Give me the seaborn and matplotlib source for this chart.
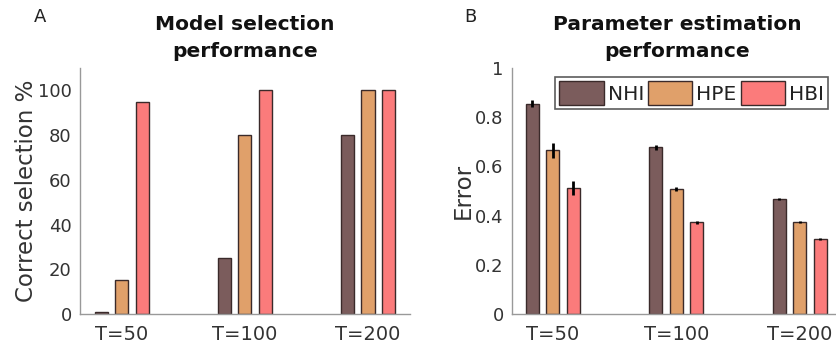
import numpy as np
import pandas as pd
import matplotlib
matplotlib.use("Agg")
import matplotlib.pyplot as plt
import seaborn as sns

# ---- data ----
conditions = ["T=50", "T=100", "T=200"]
models = ["NHI", "HPE", "HBI"]
sel_NHI = [1, 25, 80]
sel_HPE = [15, 80, 100]
sel_HBI = [95, 100, 100]
err_NHI = [0.855, 0.677, 0.466]
err_HPE = [0.665, 0.508, 0.372]
err_HBI = [0.512, 0.372, 0.303]
sem_NHI = [0.015, 0.010, 0.004]
sem_HPE = [0.030, 0.008, 0.004]
sem_HBI = [0.030, 0.007, 0.004]
colors = ["#7b5c5c", "#e0a06a", "#fb7b7b"]

sns.set_theme(style="white")
plt.rcParams['font.family'] = ['DejaVu Sans']

def long_df(a, b, c):
    rows = []
    for m, vals in zip(models, [a, b, c]):
        for cond, v in zip(conditions, vals):
            rows.append({"cond": cond, "model": m, "val": v})
    return pd.DataFrame(rows)

dfA = long_df(sel_NHI, sel_HPE, sel_HBI)
dfB = long_df(err_NHI, err_HPE, err_HBI)

fig = plt.figure(figsize=(8.37, 3.48), dpi=100)
axA = fig.add_axes([0.0956, 0.0977, 0.394, 0.707])
axB = fig.add_axes([0.6117, 0.0977, 0.394, 0.707])

for ax, df in [(axA, dfA), (axB, dfB)]:
    sns.barplot(data=df, x="cond", y="val", hue="model", order=conditions,
                hue_order=models, palette=colors, width=0.5, gap=0.36,
                edgecolor="#3a2a2a", linewidth=1.0, errorbar=None, ax=ax,
                saturation=1)
    sns.despine(ax=ax)
    for s in ["left", "bottom"]:
        ax.spines[s].set_color("#999999")
        ax.spines[s].set_linewidth(1.0)
    ax.tick_params(axis="both", length=0, colors="#333333")
    ax.tick_params(axis="x", pad=8)
    ax.tick_params(axis="y", pad=6)
    ax.set_xlabel("")

# panel A
axA.set_xlim(-0.34, 2.34)
axA.set_ylim(0, 110)
axA.set_yticks([0, 20, 40, 60, 80, 100])
axA.set_ylabel("Correct selection %", fontsize=16.5, color="#333333", labelpad=0)
axA.set_title("Model selection\nperformance", fontsize=14.5, fontweight="bold",
              color="#111111", pad=8, linespacing=1.5)
axA.get_legend().remove()

# panel B with error bars
axB.set_xlim(-0.33, 2.34)
axB.set_ylim(0, 1)
axB.set_yticks([0, 0.2, 0.4, 0.6, 0.8, 1])
axB.set_yticklabels(["0", "0.2", "0.4", "0.6", "0.8", "1"])
axB.set_ylabel("Error", fontsize=16.5, color="#333333", labelpad=0)
axB.set_title("Parameter estimation\nperformance", fontsize=14.5, fontweight="bold",
              color="#111111", pad=8, linespacing=1.5)
sems = [sem_NHI, sem_HPE, sem_HBI]
bar_containers = list(axB.containers)
for i, cont in enumerate(bar_containers):
    xs = [p.get_x() + p.get_width() / 2 for p in cont.patches]
    hs = [p.get_height() for p in cont.patches]
    axB.errorbar(xs, hs, yerr=sems[i], fmt="none", ecolor="black",
                 elinewidth=2, capsize=0)

for ax in (axA, axB):
    for lab in ax.get_xticklabels():
        lab.set_fontsize(14)
    for lab in ax.get_yticklabels():
        lab.set_fontsize(13)

leg = axB.legend(loc="upper right", ncol=3, frameon=True, fontsize=14.5,
                 handlelength=2.2, handleheight=1.45, handletextpad=0.2,
                 columnspacing=0.2, borderpad=0.2, borderaxespad=0,
                 bbox_to_anchor=(0.958, 0.963))
leg.get_frame().set_edgecolor("#333333")
leg.get_frame().set_linewidth(1.2)
leg.get_frame().set_boxstyle("square", pad=0)
for t in leg.get_texts():
    t.set_color("#222222")

fig.text(0.048, 0.95, "A", fontsize=13, color="#222222", ha="center", va="center")
fig.text(0.562, 0.95, "B", fontsize=13, color="#222222", ha="center", va="center")

fig.savefig("out.png", dpi=100)
